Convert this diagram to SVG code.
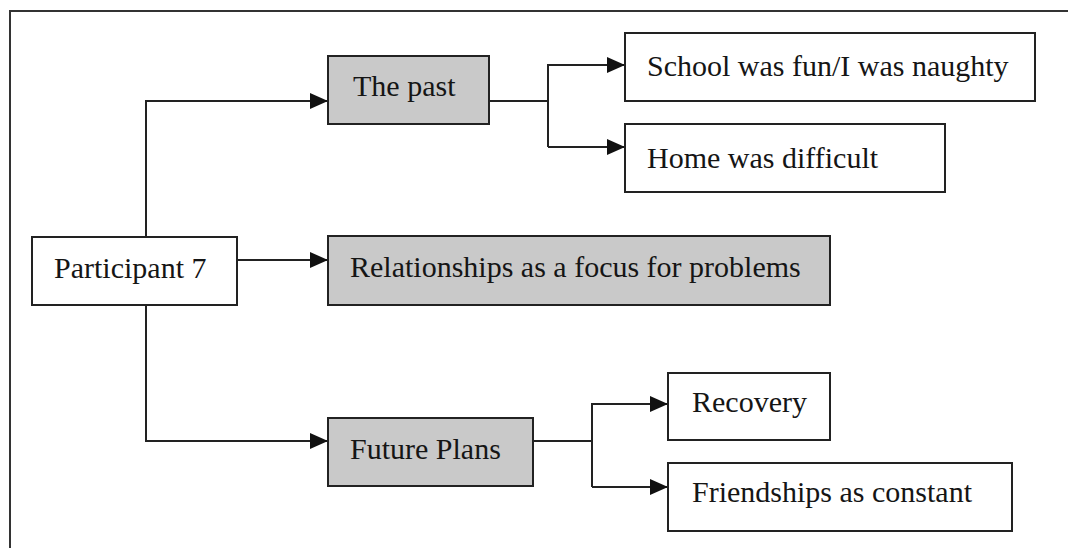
<svg xmlns="http://www.w3.org/2000/svg" width="1068" height="548" viewBox="0 0 1068 548">
  <style>
    .box { fill: #ffffff; stroke: #222222; stroke-width: 2; }
    .theme { fill: #c9c9c9; stroke: #222222; stroke-width: 2; }
    .label { font-family: "Liberation Serif", "Times New Roman", serif; font-size: 30px; fill: #151515; }
    .wire { fill: none; stroke: #222222; stroke-width: 2; }
    .frame { fill: none; stroke: #333333; stroke-width: 2; }
  </style>
  <defs>
    <marker id="arrow" markerUnits="userSpaceOnUse" markerWidth="18" markerHeight="18" viewBox="0 0 18 18" refX="18" refY="9" orient="auto">
      <path d="M0,1 L18,9 L0,17 Z" fill="#111111"/>
    </marker>
  </defs>

  <!-- outer frame -->
  <path class="frame" d="M10,548 L10,11 L1068,11"/>

  <!-- connectors -->
  <g id="connectors">
    <path class="wire" d="M146,237 L146,101 L328,101" marker-end="url(#arrow)"/>
    <path class="wire" d="M237,260 L328,260" marker-end="url(#arrow)"/>
    <path class="wire" d="M146,305 L146,441 L328,441" marker-end="url(#arrow)"/>
    <path class="wire" d="M489,101 L548,101"/>
    <path class="wire" d="M548,147 L548,65 L625,65" marker-end="url(#arrow)"/>
    <path class="wire" d="M548,147 L625,147" marker-end="url(#arrow)"/>
    <path class="wire" d="M533,441 L592,441"/>
    <path class="wire" d="M592,487 L592,404 L668,404" marker-end="url(#arrow)"/>
    <path class="wire" d="M592,487 L668,487" marker-end="url(#arrow)"/>
  </g>

  <g id="participant">
    <rect class="box" x="32" y="237" width="205" height="68"/>
    <text class="label" x="54" y="278">Participant 7</text>
  </g>

  <g id="the-past">
    <rect class="theme" x="328" y="56" width="161" height="68"/>
    <text class="label" x="353" y="96">The past</text>
  </g>

  <g id="school">
    <rect class="box" x="625" y="33" width="410" height="68"/>
    <text class="label" x="647" y="76">School was fun/I was naughty</text>
  </g>

  <g id="home">
    <rect class="box" x="625" y="124" width="320" height="68"/>
    <text class="label" x="647" y="168">Home was difficult</text>
  </g>

  <g id="relationships">
    <rect class="theme" x="328" y="236" width="502" height="69"/>
    <text class="label" x="350" y="277">Relationships as a focus for problems</text>
  </g>

  <g id="future-plans">
    <rect class="theme" x="328" y="418" width="205" height="68"/>
    <text class="label" x="350" y="459">Future Plans</text>
  </g>

  <g id="recovery">
    <rect class="box" x="668" y="373" width="162" height="67"/>
    <text class="label" x="692" y="412">Recovery</text>
  </g>

  <g id="friendships">
    <rect class="box" x="668" y="463" width="344" height="68"/>
    <text class="label" x="692" y="502">Friendships as constant</text>
  </g>
</svg>
